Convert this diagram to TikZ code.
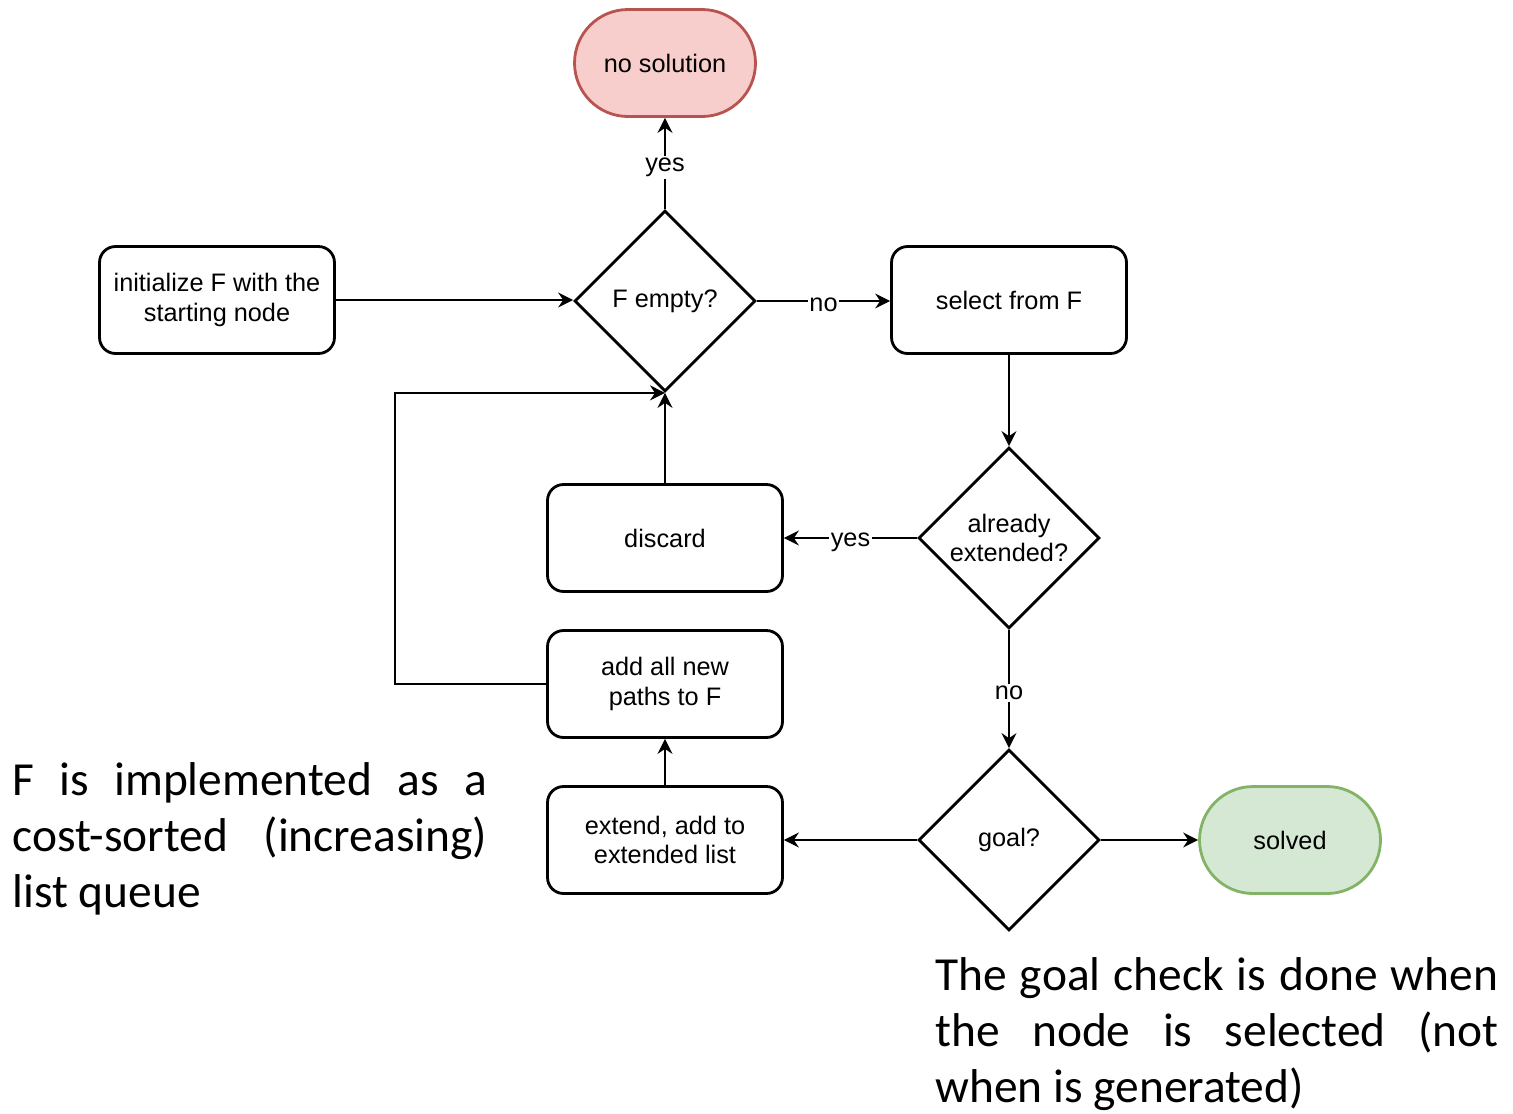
\documentclass[tikz,border=0pt]{standalone}
\usepackage{fontspec}
\setmainfont{Liberation Sans}
\newfontfamily\notefont{Carlito}
\usetikzlibrary{shapes.geometric,arrows.meta}
\definecolor{stopfill}{HTML}{F8CECC}
\definecolor{stopline}{HTML}{B85450}
\definecolor{donefill}{HTML}{D5E8D4}
\definecolor{doneline}{HTML}{82B366}
\newcommand{\nobreakwords}{\hyphenpenalty=10000 \tolerance=9999 \relax}
\begin{document}
\begin{tikzpicture}[x=0.02cm,y=-0.02cm,
  every node/.style={font=\fontsize{14.4}{16.6}\selectfont},
  shapeline/.style={draw, line width=1.6pt},
  box/.style={shapeline, rounded corners=0.32cm, minimum width=4.7cm, minimum height=2.14cm, align=center, inner sep=0pt},
  decision/.style={shapeline, diamond, aspect=1, minimum width=3.62cm, minimum height=3.62cm, align=center, inner sep=0pt},
  terminal/.style={shapeline, rounded corners=1.07cm, minimum width=3.62cm, minimum height=2.14cm, inner sep=0pt},
  arr/.style={-{Stealth[length=0.3cm,width=0.3cm,inset=0.1cm]}, line width=0.85pt},
  lbl/.style={fill=white, inner sep=1pt, yshift=-0.08cm},
  note/.style={font=\notefont\fontsize{27}{31.9}\selectfont, text width=#1, align=justify, inner sep=0pt, anchor=base west}
]
\useasboundingbox (0,0) rectangle (1513,1113);

% flowchart nodes
\node[terminal, fill=stopfill, draw=stopline] (nosol) at (665,63) {no solution};
\node[decision] (fe) at (665,301) {F empty?};
\node[box] (init) at (217,300) {initialize F with the\\starting node};
\node[box] (sel) at (1009,300) {select from F};
\node[decision] (ae) at (1009,538) {already\\extended?};
\node[box] (disc) at (665,538) {discard};
\node[box] (add) at (665,684) {add all new\\paths to F};
\node[box] (ext) at (665,840) {extend, add to\\extended list};
\node[decision] (goal) at (1009,840) {goal?};
\node[terminal, fill=donefill, draw=doneline] (solved) at (1290,840) {solved};
\coordinate (bend) at (395,684);

% connectors
\draw[arr] (init) -- (init -| fe.west);
\draw[arr] (fe) -- node[lbl] {yes} (nosol);
\draw[arr] (fe.east) -- node[lbl] {no} (fe.east -| sel.west);
\draw[arr] (sel) -- (ae);
\draw[arr] (ae) -- node[lbl] {yes} (disc);
\draw[arr] (disc) -- (fe.south);
\draw[arr] (ae) -- node[lbl] {no} (goal);
\draw[arr] (goal) -- (ext);
\draw[arr] (goal) -- (solved);
\draw[arr] (ext) -- (add);
\draw[arr] (add.west) -- (bend) |- (fe.south);

% side notes
\node[note=9.5cm] (qnote) at (12,795)
  {\nobreakwords F is implemented as a\linebreak cost-sorted (increasing)\linebreak list queue};
\node[note=11.26cm] (gnote) at (935,990)
  {\nobreakwords The goal check is done when\linebreak the node is selected (not\linebreak when is generated)};
\end{tikzpicture}
\end{document}
